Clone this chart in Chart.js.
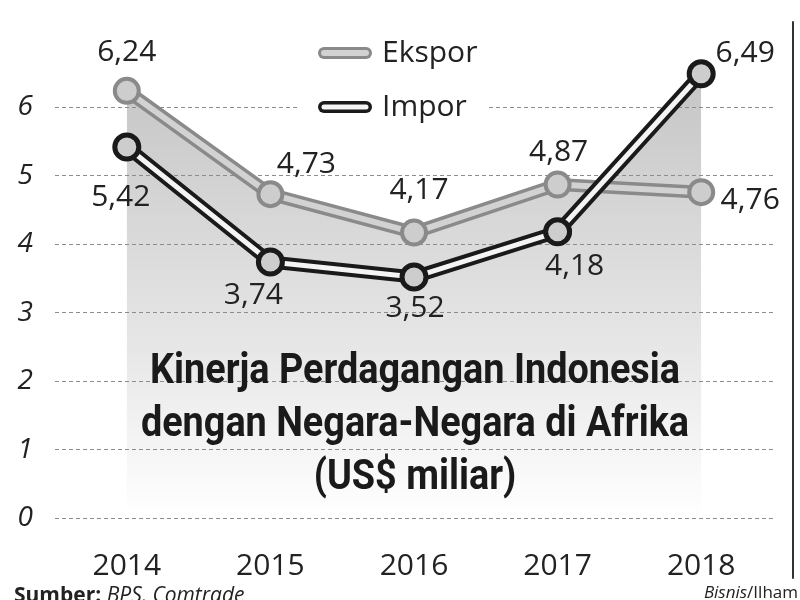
<!DOCTYPE html>
<html>
<head>
<meta charset="utf-8">
<style>
  html, body { margin: 0; padding: 0; background: #fff; }
  #chart { display: block; }
</style>
<script src="https://cdn.jsdelivr.net/npm/chart.js@4.4.1/dist/chart.umd.min.js"></script>
</head>
<body>
<canvas id="chart" width="800" height="600"></canvas>
<script>
// Data
const years = ['2014', '2015', '2016', '2017', '2018'];
const ekspor = [6.24, 4.73, 4.17, 4.87, 4.76];
const impor = [5.42, 3.74, 3.52, 4.18, 6.49];
const yTicks = [0, 1, 2, 3, 4, 5, 6];
const seriesNames = ['Ekspor', 'Impor'];
const titleLines = ['Kinerja Perdagangan Indonesia', 'dengan Negara-Negara di Afrika', '(US$ miliar)'];

// label placement (dx, dy from the point)
const eksporLabelPos = [[0, -38], [36, -30], [5, -42], [1, -32], [49, 8]];
const imporLabelPos = [[-6, 50], [-17, 33], [1, 31], [17, 35], [44, -20]];

const fmt = v => v.toFixed(2).replace('.', ',');
const numFont = "'Open Sans', sans-serif";

function areaGradient(ctx) {
    const area = ctx.chart.chartArea;
    if (!area) return '#ddd';
    const g = ctx.chart.ctx.createLinearGradient(0, area.top + 40, 0, area.bottom);
    g.addColorStop(0, '#c6c6c6');
    g.addColorStop(0.6, '#e6e6e6');
    g.addColorStop(1, '#ffffff');
    return g;
}

// value labels, legend, title and footer
const extras = {
    id: 'extras',
    afterDatasetsDraw(chart) {
        const ctx = chart.ctx;
        ctx.save();
        ctx.fillStyle = '#222';
        ctx.font = "30px " + numFont;
        ctx.textAlign = 'center';
        ctx.textBaseline = 'middle';
        const sets = [[ekspor, 2, eksporLabelPos], [impor, 0, imporLabelPos]];
        sets.forEach(([vals, dsIndex, pos]) => {
            const meta = chart.getDatasetMeta(dsIndex);
            vals.forEach((v, i) => {
                const pt = meta.data[i];
                ctx.fillText(fmt(v), pt.x + pos[i][0], pt.y + pos[i][1]);
            });
        });

        // title, condensed bold
        ctx.fillStyle = '#1a1a1a';
        ctx.font = "bold 42px Roboto, sans-serif";
        ctx.textBaseline = 'alphabetic';
        const cx = 415;
        [383, 436, 489].forEach((y, i) => {
            ctx.save();
            ctx.translate(cx, y);
            ctx.scale(0.9, 1);
            ctx.fillText(titleLines[i], 0, 0);
            ctx.restore();
        });
        ctx.restore();
    },
    afterDraw(chart) {
        const ctx = chart.ctx;
        ctx.save();
        // legend box
        ctx.fillStyle = '#fff';
        ctx.fillRect(300, 28, 186, 98);
        const swatches = [
            { y: 53, outer: '#8a8a8a', inner: '#d2d2d2', w: 6 },
            { y: 107, outer: '#1a1a1a', inner: '#f4f4f4', w: 5 }
        ];
        ctx.lineCap = 'round';
        swatches.forEach((s, i) => {
            ctx.beginPath();
            ctx.moveTo(324, s.y); ctx.lineTo(366, s.y);
            ctx.strokeStyle = s.outer; ctx.lineWidth = 12; ctx.stroke();
            ctx.beginPath();
            ctx.moveTo(324, s.y); ctx.lineTo(366, s.y);
            ctx.strokeStyle = s.inner; ctx.lineWidth = s.w; ctx.stroke();
            ctx.fillStyle = '#222';
            ctx.font = "30px " + numFont;
            ctx.textAlign = 'left';
            ctx.textBaseline = 'middle';
            ctx.fillText(seriesNames[i], 382, s.y);
        });

        // right border line
        ctx.beginPath();
        ctx.moveTo(793, 22); ctx.lineTo(793, 578);
        ctx.strokeStyle = '#333'; ctx.lineWidth = 2; ctx.stroke();

        // footer
        ctx.textBaseline = 'alphabetic';
        ctx.fillStyle = '#222';
        ctx.font = "bold 21px " + numFont;
        ctx.fillText('Sumber:', 14, 602);
        let w = ctx.measureText('Sumber: ').width;
        ctx.font = "italic 21px " + numFont;
        ctx.fillText('BPS, Comtrade', 14 + w, 602);

        ctx.font = "italic 17px " + numFont;
        ctx.textAlign = 'left';
        const b = ctx.measureText('Bisnis').width;
        ctx.font = "17px " + numFont;
        const r = ctx.measureText('/Ilham').width;
        const x0 = 798 - b - r;
        ctx.font = "italic 17px " + numFont;
        ctx.fillText('Bisnis', x0, 598);
        ctx.font = "17px " + numFont;
        ctx.fillText('/Ilham', x0 + b, 598);
        ctx.restore();
    }
};

const ctx = document.getElementById('chart').getContext('2d');
new Chart(ctx, {
    type: 'line',
    data: {
        labels: years,
        datasets: [
            {   // Impor inner
                data: impor,
                borderColor: '#f4f4f4',
                borderWidth: 5,
                pointRadius: 12,
                pointBackgroundColor: '#cdcdcd',
                pointBorderColor: '#1a1a1a',
                pointBorderWidth: 5,
                fill: false,
                tension: 0
            },
            {   // Impor outer
                data: impor,
                borderColor: '#1a1a1a',
                borderWidth: 13,
                pointRadius: 0,
                fill: 'origin',
                backgroundColor: areaGradient,
                tension: 0
            },
            {   // Ekspor inner
                data: ekspor,
                borderColor: '#d2d2d2',
                borderWidth: 6,
                pointRadius: 12,
                pointBackgroundColor: '#cdcdcd',
                pointBorderColor: '#8a8a8a',
                pointBorderWidth: 4,
                fill: false,
                tension: 0
            },
            {   // Ekspor outer
                data: ekspor,
                borderColor: '#8a8a8a',
                borderWidth: 13,
                pointRadius: 0,
                fill: 'origin',
                backgroundColor: areaGradient,
                tension: 0
            }
        ]
    },
    options: {
        responsive: false,
        devicePixelRatio: 1,
        animation: false,
        layout: { padding: { top: 38.5, right: 27, left: 0, bottom: 0 } },
        plugins: {
            legend: { display: false },
            tooltip: { enabled: false },
            filler: { drawTime: 'beforeDraw' }
        },
        elements: { line: { borderJoinStyle: 'round' } },
        scales: {
            x: {
                offset: true,
                grid: { display: false },
                border: { display: false },
                ticks: {
                    color: '#222',
                    padding: 22,
                    font: { family: "'Open Sans', sans-serif", size: 30 }
                },
                afterFit(scale) { scale.height = 82; }
            },
            y: {
                min: 0,
                max: 7,
                border: { display: false, dash: [4, 3] },
                grid: {
                    drawTicks: false,
                    lineWidth: 1,
                    color: c => (c.tick && c.tick.value > 6) ? 'rgba(0,0,0,0)' : '#8c8c8c'
                },
                ticks: {
                    stepSize: 1,
                    padding: 22,
                    color: '#222',
                    font: { family: "'Open Sans', sans-serif", size: 28, style: 'italic' },
                    callback: v => yTicks.includes(v) ? v : ''
                },
                afterFit(scale) { scale.width = 55; }
            }
        }
    },
    plugins: [extras]
});
</script>
</body>
</html>
